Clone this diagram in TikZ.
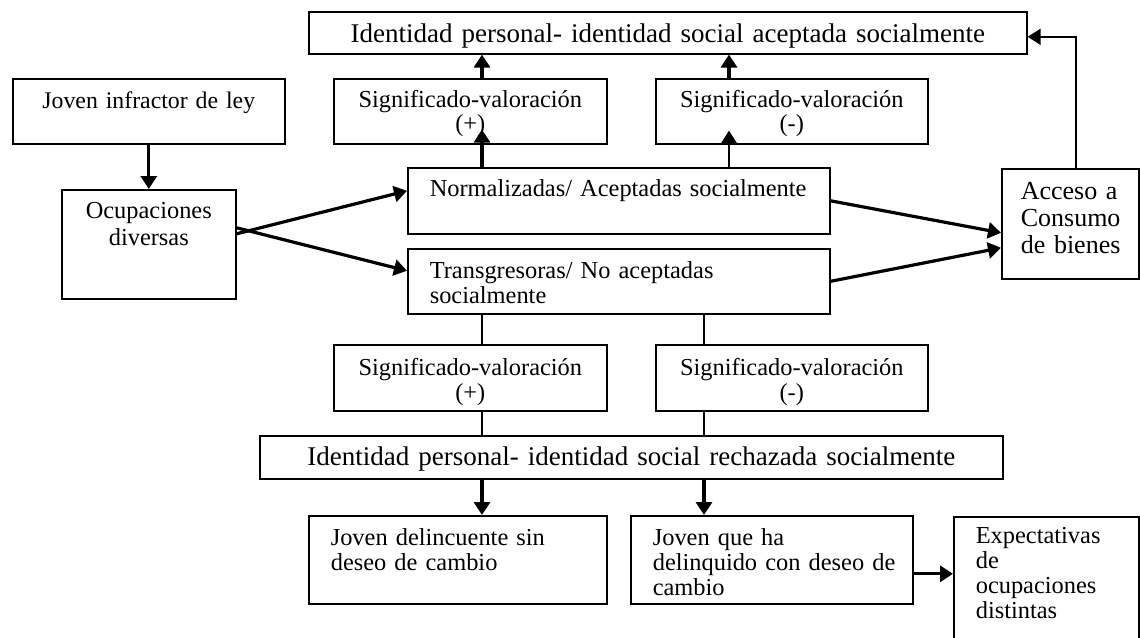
\documentclass[tikz,border=0pt]{standalone}
\usepackage{fontspec}
\setmainfont{Liberation Serif}
\usetikzlibrary{arrows.meta}

\tikzset{
  caja/.style={draw, line width=0.8pt, anchor=north west, inner ysep=0pt, inner xsep=0pt,
    font=\fontsize{12.2}{13.5}\selectfont},
  centro/.style={align=center},
  izq/.style={align=left, inner xsep=11pt},
  grande/.style={font=\fontsize{13.5}{15}\selectfont},
  flecha/.style={line width=1.6pt, -{Triangle[length=6.5pt,width=8pt]}},
  fina/.style={line width=0.8pt},
}

\begin{document}
\begin{tikzpicture}[x=0.5pt, y=-0.5pt]
  \useasboundingbox (0,0) rectangle (1140,637);

  % parte superior
  \node[caja, centro, grande, text width=359pt, text height=15.5pt, text depth=5.5pt] (idA) at (308,11)
    {Identidad personal- identidad social aceptada socialmente};
  \node[caja, centro, text width=136pt, text height=15pt, text depth=17.5pt,
    font=\fontsize{11.9}{13.5}\selectfont] (joven) at (12,78)
    {Joven infractor de ley};
  \node[caja, centro, text width=87pt, text height=14.5pt, text depth=40pt] (ocup) at (61,189)
    {Ocupaciones\\ diversas};
  \node[caja, centro, text width=136.5pt, text height=14.5pt, text depth=18pt,
    font=\fontsize{12.2}{11}\selectfont] (sigA1) at (333,78)
    {Significado-valoración\\ (+)};
  \node[caja, centro, text width=136pt, text height=14.5pt, text depth=18pt,
    font=\fontsize{12.2}{11}\selectfont] (sigA2) at (655,78)
    {Significado-valoración\\ (-)};

  % ocupaciones
  \node[caja, izq, text width=189pt, text height=14.5pt, text depth=18.5pt] (norm) at (407,167)
    {Normalizadas/ Aceptadas socialmente};
  \node[caja, izq, text width=189pt, text height=15pt, text depth=17.5pt,
    font=\fontsize{12.2}{12.5}\selectfont] (trans) at (407,248)
    {Transgresoras/ No aceptadas\\ socialmente};
  \node[caja, izq, inner xsep=9.5pt, text width=49.5pt, text height=15.5pt, text depth=39.5pt,
    font=\fontsize{13}{13.5}\selectfont] (acceso) at (1001,168)
    {\mbox{Acceso a}\\ \mbox{Consumo}\\ \mbox{de bienes}};

  % parte inferior
  \node[caja, centro, text width=136.5pt, text height=15.5pt, text depth=17.5pt,
    font=\fontsize{12.2}{12.5}\selectfont] (sigB1) at (333,344)
    {Significado-valoración\\ (+)};
  \node[caja, centro, text width=136pt, text height=15.5pt, text depth=17.5pt,
    font=\fontsize{12.2}{12.5}\selectfont] (sigB2) at (655,344)
    {Significado-valoración\\ (-)};
  \node[caja, centro, grande, text width=371.5pt, text height=15pt, text depth=6.5pt] (idR) at (259,435)
    {Identidad personal- identidad social rechazada socialmente};
  \node[caja, izq, text width=127pt, text height=15pt, text depth=29pt,
    font=\fontsize{12.2}{12.5}\selectfont] (jd) at (308,515)
    {Joven delincuente sin\\ deseo de cambio};
  \node[caja, izq, text width=119pt, text height=15pt, text depth=29pt,
    font=\fontsize{12.2}{12.5}\selectfont] (jq) at (630,515)
    {Joven que ha\\ \mbox{delinquido con deseo de}\\ cambio};
  \node[caja, izq, text width=70.5pt, text height=13.5pt, text depth=53.5pt,
    font=\fontsize{12.2}{12.5}\selectfont] (expect) at (953,516)
    {Expectativas\\ de\\ ocupaciones\\ distintas};

  \coordinate (xa) at (482,0);
  \coordinate (xb) at (729,0);
  \coordinate (xd) at (704,0);

  % flechas
  \draw[flecha] (joven.south) -- (ocup.north);
  \draw[flecha] ([yshift=5.25pt]ocup.east) -- ([yshift=5pt]norm.west);
  \draw[flecha] ([yshift=8.25pt]ocup.east) -- ([yshift=5.25pt]trans.west);
  \draw[flecha, shorten >=-7.5pt] (xa |- norm.north) -- (xa |- sigA1.south);
  \draw[flecha, line width=0.8pt, shorten >=-7pt] (xb |- norm.north) -- (xb |- sigA2.south);
  \draw[flecha] (xa |- sigA1.north) -- (xa |- idA.south);
  \draw[flecha] (xb |- sigA2.north) -- (xb |- idA.south);
  \draw[flecha] (norm.east) -- ([yshift=-4.5pt]acceso.west);
  \draw[flecha] (trans.east) -- ([yshift=-12pt]acceso.west);
  \draw[fina, -{Triangle[length=6.5pt,width=8pt]}] ([xshift=2.75pt]acceso.north) |- ([yshift=-2pt]idA.east);

  \draw[fina] (xa |- trans.south) -- (xa |- sigB1.north);
  \draw[fina] (xd |- trans.south) -- (xd |- sigB2.north);
  \draw[fina] (xa |- sigB1.south) -- (xa |- idR.north);
  \draw[fina] (xd |- sigB2.south) -- (xd |- idR.north);
  \draw[flecha] (xa |- idR.south) -- (xa |- jd.north);
  \draw[flecha] (xd |- idR.south) -- (xd |- jq.north);
  \draw[flecha] ([yshift=-7pt]jq.east) -- ([yshift=-7pt]jq.east -| expect.west);
\end{tikzpicture}
\end{document}
